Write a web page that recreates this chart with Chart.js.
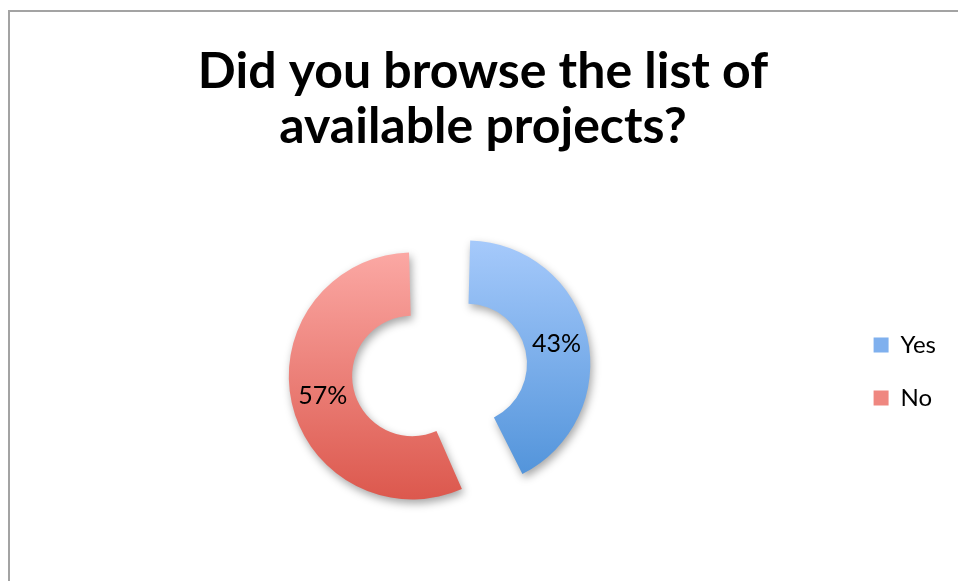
<!DOCTYPE html>
<html>
<head>
<meta charset="utf-8">
<script src="https://cdn.jsdelivr.net/npm/chart.js@4.4.1/dist/chart.umd.min.js"></script>
<style>
  html, body { margin: 0; padding: 0; background: #fff; }
  #wrap { position: relative; width: 958px; height: 581px; overflow: hidden; }
  #frame { position: absolute; left: 8px; top: 10px; width: 1000px; height: 1000px;
           border-left: 2px solid #a3a3a3; border-top: 2px solid #a3a3a3; }
  canvas { position: absolute; left: 0; top: 0; }
</style>
</head>
<body>
<div id="wrap">
  <div id="frame"></div>
  <canvas id="grafico" width="958" height="581"></canvas>
</div>
<script>
const categorias = ['Yes', 'No'];
const percentuais = [43, 57];
const tituloLinhas = ['Did you browse the list of', 'available projects?'];

const coresTopo = ['#a8cbfc', '#fcaaa6'];
const coresBase = ['#4c90d8', '#db564b'];
const coresLegenda = ['#7fb0ee', '#ef8780'];

// afastamento das fatias (o Chart.js desloca offset/4 px)
const afastamento = [142, 82];
const RAIO = 103;

function gradiente(context) {
    const chart = context.chart;
    const i = context.dataIndex;
    const area = chart.chartArea;
    if (!area) return coresBase[i];
    const cy = (area.top + area.bottom) / 2;
    const g = chart.ctx.createLinearGradient(0, cy - 130, 0, cy + 130);
    g.addColorStop(0, coresTopo[i]);
    g.addColorStop(1, coresBase[i]);
    return g;
}

// sombra suave sob as fatias
const sombra = {
    id: 'sombra',
    beforeDatasetsDraw(chart) {
        const c = chart.ctx;
        c.save();
        c.shadowColor = 'rgba(0,0,0,0.35)';
        c.shadowBlur = 8;
        c.shadowOffsetX = 2;
        c.shadowOffsetY = 4;
    },
    afterDatasetsDraw(chart) {
        chart.ctx.restore();
    }
};

// rótulos de porcentagem dentro das fatias
const rotulos = {
    id: 'rotulos',
    afterDraw(chart) {
        const c = chart.ctx;
        const meta = chart.getDatasetMeta(0);
        c.save();
        c.font = '25px Lato';
        c.fillStyle = '#000';
        c.textAlign = 'center';
        c.textBaseline = 'middle';
        meta.data.forEach((arc, i) => {
            const meio = (arc.startAngle + arc.endAngle) / 2;
            const desl = (arc.options.offset || 0) / 4;
            const fix = 1 - Math.sin(Math.min(Math.PI, arc.circumference));
            const r = (arc.innerRadius + arc.outerRadius) / 2 + desl * fix + desl;
            c.fillText(percentuais[i] + '%', arc.x + Math.cos(meio) * r, arc.y + Math.sin(meio) * r);
        });
        c.restore();
    }
};

const ctx = document.getElementById('grafico').getContext('2d');
new Chart(ctx, {
    type: 'doughnut',
    data: {
        labels: categorias,
        datasets: [{
            data: percentuais,
            backgroundColor: gradiente,
            borderWidth: 0,
            offset: afastamento,
            hoverOffset: 0,
            radius: RAIO,
            cutout: '38.5%'
        }]
    },
    options: {
        responsive: false,
        animation: false,
        layout: { padding: { left: 20, right: 12, top: 0, bottom: 5 } },
        plugins: {
            tooltip: { enabled: false },
            title: {
                display: true,
                text: tituloLinhas,
                color: '#000',
                font: { family: 'Lato', size: 50, weight: 'bold', lineHeight: 1.1 },
                padding: { top: 44, bottom: 13 }
            },
            legend: {
                position: 'right',
                fullSize: false,
                labels: {
                    color: '#000',
                    font: { family: 'Lato', size: 24 },
                    boxWidth: 15,
                    boxHeight: 15,
                    padding: 29,
                    generateLabels(chart) {
                        return categorias.map((t, i) => ({
                            text: t,
                            fillStyle: coresLegenda[i],
                            strokeStyle: coresLegenda[i],
                            lineWidth: 0,
                            index: i
                        }));
                    }
                }
            }
        }
    },
    plugins: [sombra, rotulos]
});
</script>
</body>
</html>
